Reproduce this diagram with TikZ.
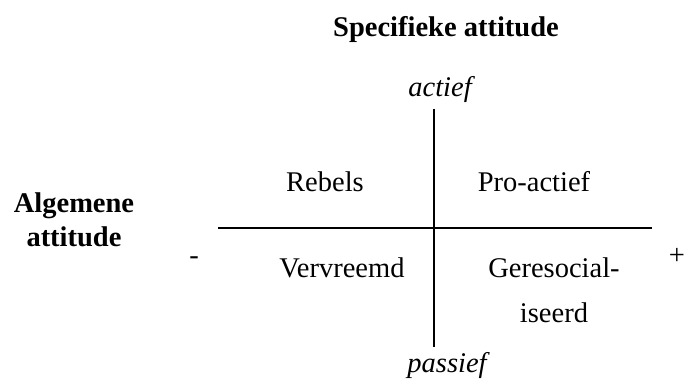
\documentclass[tikz,border=0pt]{standalone}
\usepackage{fontspec}
\setmainfont{Liberation Serif}
\usepackage{tikz}
\usetikzlibrary{positioning}

\begin{document}
\begin{tikzpicture}[
    x=1pt, y=-1pt,
    txt/.style={inner sep=0pt, anchor=base, font=\fontsize{28.5}{34}\selectfont},
    head/.style={txt, font=\fontsize{28.5}{34}\selectfont\bfseries, align=center},
    pole/.style={txt, font=\fontsize{28.5}{34}\selectfont\itshape},
    axis/.style={line width=1.6pt, black}
]
\useasboundingbox (0,0) rectangle (685,387);

% Titles
\node[head] (spec) at (446,37) {Specifieke attitude};
\node[head] (alg) at (74,247) {Algemene\\attitude};

% Axes
\coordinate (top) at (434,109);
\coordinate (bot) at (434,347);
\coordinate (left) at (218,228);
\coordinate (right) at (652,228);
\draw[axis] (top) -- (bot);
\draw[axis] (left) -- (right);

% Poles
\node[pole] (actief) at (440,97) {actief};
\node[pole] (passief) at (447,372) {passief};
\node[txt] (min) at (194,265) {-};
\node[txt] (plus) at (677,265) {+};

% Quadrants
\node[txt] (rebels) at (325,192) {Rebels};
\node[txt] (pro) at (534,192) {Pro-actief};
\node[txt] (vervr) at (342,277) {Vervreemd};
\node[txt, align=center, font=\fontsize{28.5}{45}\selectfont] (geres) at (554,322) {Geresocial-\\iseerd};

\end{tikzpicture}
\end{document}
